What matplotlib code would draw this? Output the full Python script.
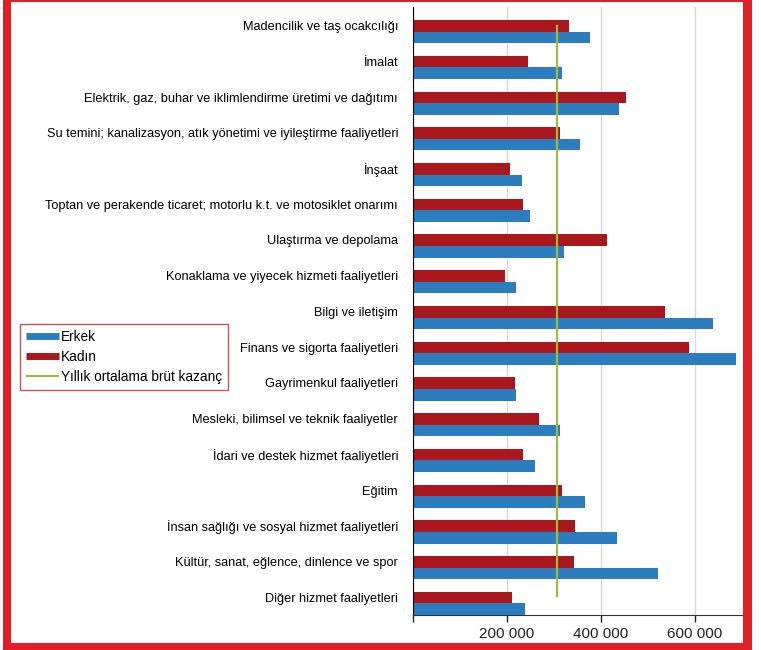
import matplotlib
matplotlib.use("Agg")
import matplotlib.pyplot as plt
import numpy as np
from matplotlib.lines import Line2D
from matplotlib.patches import Rectangle

plt.rcParams["font.family"] = ["Liberation Sans", "DejaVu Sans"]

categories = [
    "Madencilik ve taş ocakcılığı",
    "İmalat",
    "Elektrik, gaz, buhar ve iklimlendirme üretimi ve dağıtımı",
    "Su temini; kanalizasyon, atık yönetimi ve iyileştirme faaliyetleri",
    "İnşaat",
    "Toptan ve perakende ticaret; motorlu k.t. ve motosiklet onarımı",
    "Ulaştırma ve depolama",
    "Konaklama ve yiyecek hizmeti faaliyetleri",
    "Bilgi ve iletişim",
    "Finans ve sigorta faaliyetleri",
    "Gayrimenkul faaliyetleri",
    "Mesleki, bilimsel ve teknik faaliyetler",
    "İdari ve destek hizmet faaliyetleri",
    "Eğitim",
    "İnsan sağlığı ve sosyal hizmet faaliyetleri",
    "Kültür, sanat, eğlence, dinlence ve spor",
    "Diğer hizmet faaliyetleri",
]
erkek = [378000, 317000, 439000, 356000, 232000, 249000, 321000, 220000, 638000,
         687000, 219000, 313000, 261000, 366000, 435000, 522000, 238000]
kadin = [332000, 245000, 453000, 313000, 206000, 234000, 413000, 197000, 536000,
         588000, 217000, 269000, 234000, 317000, 346000, 344000, 211000]
ortalama = 306000
xticks = [0, 200000, 400000, 600000]
xticklabels = ["", "200 000", "400 000", "600 000"]

BLUE = "#2b7dc0"
RED = "#a9161b"
GREEN = "#9dbb3d"
FRAME = "#e41e26"

W, H = 761, 650
fig = plt.figure(figsize=(W / 100, H / 100), dpi=100)
ax = fig.add_axes([412.7 / W, 35 / H, 329 / W, 608 / H])

y = np.arange(len(categories))
h = 0.325
ax.barh(y - h / 2, kadin, height=h, color=RED, zorder=2)
ax.barh(y + h / 2, erkek, height=h, color=BLUE, zorder=2)
ax.plot([ortalama, ortalama], [-0.16, len(categories) - 1 - 0.2], color=GREEN, lw=1.6, zorder=3)

ax.set_xlim(0, 700000)
ax.set_ylim(len(categories) - 1 + h, -0.69)
ax.set_yticks(y - 0.17)
ax.set_yticklabels(categories, fontsize=9.2)
ax.tick_params(axis="y", length=0, pad=10.5)
ax.set_xticks(xticks)
ax.set_xticklabels(xticklabels, fontsize=11)
ax.tick_params(axis="x", length=5, width=1, direction="out", pad=4, colors="#222222")
ax.grid(axis="x", color="#d9d9d9", lw=1, zorder=0)
for s in ("top", "right"):
    ax.spines[s].set_visible(False)
ax.spines["left"].set_color("black")
ax.spines["bottom"].set_color("#333333")

handles = [
    Line2D([], [], color=BLUE, lw=5, solid_capstyle="butt"),
    Line2D([], [], color=RED, lw=5, solid_capstyle="butt"),
    Line2D([], [], color=GREEN, lw=1.5, solid_capstyle="butt"),
]
leg = fig.legend(handles, ["Erkek", "Kadın", "Yıllık ortalama brüt kazanç"],
                 loc="upper left", bbox_to_anchor=(20 / W, 1 - 324 / H),
                 fontsize=9.8, frameon=True, fancybox=False, handlelength=2.4,
                 handletextpad=0.15, borderpad=0.45, labelspacing=0.42, borderaxespad=0)
leg.get_frame().set_edgecolor("#b22a2e")
leg.get_frame().set_linewidth(1)

# red frame round the picture (pixel boxes: x, y from bottom, w, h)
for bx, by, bw, bh in [(3, 0, 8, H), (743, 0, 9, H), (3, 0, 749, 7), (3, H - 2, 749, 2)]:
    fig.patches.append(Rectangle((bx / W, by / H), bw / W, bh / H, transform=fig.transFigure,
                                 facecolor=FRAME, edgecolor="none", zorder=10))

fig.savefig("out.png", dpi=100)
